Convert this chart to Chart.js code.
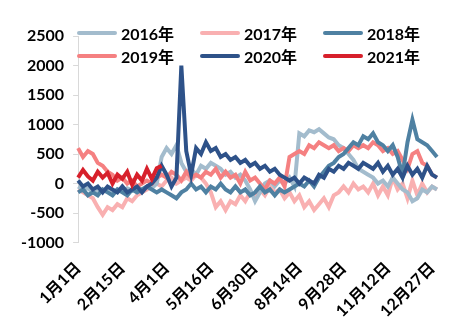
<!DOCTYPE html>
<html>
<head>
<meta charset="utf-8">
<script src="https://cdn.jsdelivr.net/npm/chart.js@4.4.1/dist/chart.umd.min.js"></script>
<style>
  body { margin: 0; background: #fff; }
  #wrap { position: relative; width: 470px; height: 335px; }
  .lg { position: absolute; font: bold 16px Lato, 'Noto Sans CJK SC', sans-serif; color: #000; }
  .lg i { position: absolute; left: 0; top: 8px; width: 40px; height: 4px; border-radius: 2px; }
  .lg span { position: absolute; left: 44px; top: -2px; white-space: nowrap; }
</style>
</head>
<body>
<div id="wrap">
  <canvas id="lineChart" width="470" height="335"></canvas>
  <div id="legend"></div>
</div>
<script>
  // tick labels every 45 days, points every 5 days
  var tickLabels = ['1月1日', '2月15日', '4月1日', '5月16日', '6月30日', '8月14日', '9月28日', '11月12日', '12月27日']
  var seriesNames = ['2016年', '2017年', '2018年', '2019年', '2020年', '2021年']
  var seriesColors = ['#a3bccd', '#f9b0b1', '#4f81a2', '#f58081', '#2e5289', '#d7202b']

  var s2016 = [-50, -100, -80, -150, -100, -120, -80, -150, -100, -130, -80, -120, -60, -100, -50, -80, 0, 450, 600, 500,
    650, 350, 200, 250, 150, 300, 250, 350, 300, 250, 150, 200, 100, 150, 50, -100, -300, -150, 0, 50,
    -50, 50, 0, 100, -50, 850, 800, 900, 870, 920, 850, 780, 750, 650, 600, 500, 400, 250, 200, 150,
    100, 0, 50, -50, 100, 0, -100, -150, -300, -250, -100, -150, -50, -100]
  var s2017 = [-100, -150, -200, -250, -400, -530, -400, -450, -350, -400, -250, -300, -200, -150, -100, -50, 0, -50, 50, 100,
    0, 50, 100, 50, 150, 100, 0, -150, -400, -300, -450, -300, -350, -200, -300, -150, -250, -100, -200, -50,
    -150, -100, -250, -150, -300, -200, -400, -300, -450, -350, -250, -400, -200, -150, -50, -150, 0, -100, -50, -150,
    0, -200, -50, -200, 100, -100, 0, -250, 50, -200, 0, -150, -50, -100]
  var s2018 = [-150, -100, -200, -150, -200, -100, -150, -200, -100, -150, -200, -100, -150, -100, -50, -100, -150, -100, -150, -200,
    -250, -150, -100, 0, -100, -50, -150, -50, -100, 0, -100, -150, -50, -150, -100, -200, -150, -50, -150, -100,
    -200, -100, -150, -100, -50, 0, -50, 50, -50, 100, 200, 300, 350, 450, 500, 600, 700, 650, 800, 750,
    850, 700, 650, 550, 650, 450, 150, 700, 1080, 750, 700, 650, 550, 450]
  var s2019 = [600, 450, 550, 500, 350, 300, 200, 150, 50, 100, 0, 50, -50, 0, 50, 0, 100, 150, 100, 200,
    150, 50, 200, 100, 150, 100, 200, 150, 250, 100, 200, 100, 150, 0, 200, 50, 100, 0, -100, 50,
    0, 100, -50, 450, 500, 550, 500, 650, 600, 700, 650, 600, 650, 550, 600, 550, 650, 600, 650, 600,
    700, 650, 550, 600, 500, 550, 400, 250, 500, 550, 350, 300, 150, 100]
  var s2020 = [50, -50, 0, -100, -50, -150, -50, -100, -150, -50, -150, -100, -50, -150, -50, 0, 100, 300, 150, -50,
    100, 2000, 550, 150, 600, 500, 700, 550, 600, 450, 500, 400, 450, 350, 400, 300, 350, 250, 300, 200,
    250, 150, 100, 50, 100, 0, 100, 50, 0, 150, 100, 250, 200, 300, 250, 350, 300, 250, 350, 300,
    250, 350, 200, 300, 150, 250, 100, 300, 150, 250, 100, 300, 150, 100]
  var s2021 = [100, 230, 120, 50, 200, 100, 180, 0, 150, 80, 200, -20, 150, 50, 250, 80, 260, 300]

  var allSeries = [s2016, s2017, s2018, s2019, s2020, s2021]
  var drawOrder = [4, 5, 2, 3, 1, 0]

  var labels = s2016.map(function (v, i) {
    return i % 9 === 0 ? tickLabels[i / 9] : ''
  })

  var datasets = allSeries.map(function (d, k) {
    return {
      label: seriesNames[k],
      data: d,
      borderColor: seriesColors[k],
      backgroundColor: seriesColors[k],
      borderWidth: 4,
      pointRadius: 0,
      tension: 0,
      order: drawOrder[k]
    }
  })

  // legend drawn as html, 3 columns x 2 rows over the plot
  var legendX = [77, 200, 323]
  var legendY = [23, 46]
  var legendBox = document.getElementById('legend')
  seriesNames.forEach(function (name, k) {
    var el = document.createElement('div')
    el.className = 'lg'
    el.style.left = legendX[k % 3] + 'px'
    el.style.top = legendY[Math.floor(k / 3)] + 'px'
    el.innerHTML = '<i style="background:' + seriesColors[k] + '"></i><span>' + name + '</span>'
    legendBox.appendChild(el)
  })

  var tickFont = { family: "Lato, 'Noto Sans CJK SC', sans-serif", size: 16, weight: 'bold' }

  new Chart(document.getElementById('lineChart').getContext('2d'), {
    type: 'line',
    data: { labels: labels, datasets: datasets },
    options: {
      responsive: false,
      animation: false,
      layout: { padding: { left: 12, top: 36, right: 33, bottom: 6 } },
      plugins: { legend: { display: false }, tooltip: { enabled: false } },
      scales: {
        x: {
          grid: { display: false },
          border: { display: false },
          ticks: { autoSkip: false, minRotation: 45, maxRotation: 45, color: '#000', font: tickFont, padding: 8 }
        },
        y: {
          min: -1000,
          max: 2500,
          grid: { drawOnChartArea: false, drawTicks: true, tickLength: 5, color: '#d9d9d9' },
          border: { display: true, color: '#d9d9d9' },
          ticks: {
            stepSize: 500, color: '#000', font: tickFont, padding: 9,
            callback: function (v) { return String(v) }
          }
        }
      }
    }
  })
</script>
</body>
</html>
